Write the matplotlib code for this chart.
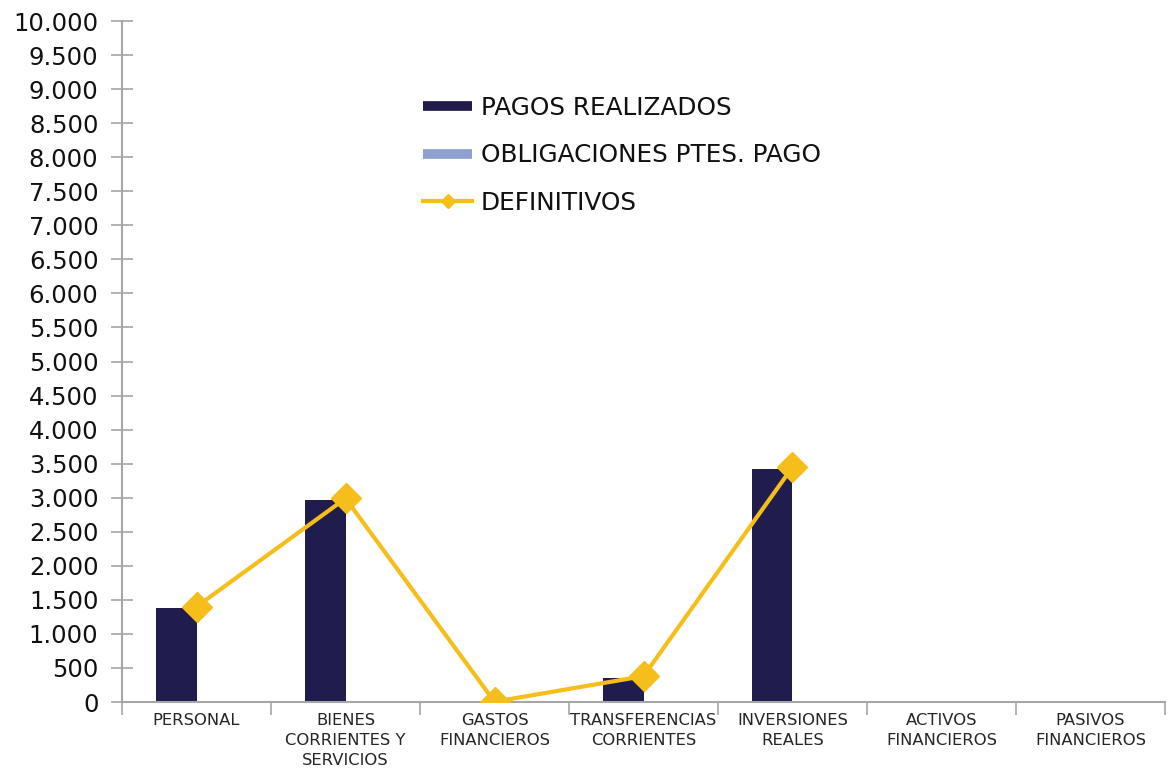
import numpy as np
import matplotlib
matplotlib.use("Agg")
from matplotlib import pyplot as plt
from matplotlib.lines import Line2D
from matplotlib.ticker import FuncFormatter, FixedLocator

plt.rcParams['font.family'] = ['DejaVu Sans']

categorias = ["PERSONAL", "BIENES\nCORRIENTES Y\nSERVICIOS", "GASTOS\nFINANCIEROS",
              "TRANSFERENCIAS\nCORRIENTES", "INVERSIONES\nREALES", "ACTIVOS\nFINANCIEROS",
              "PASIVOS\nFINANCIEROS"]
pagos_realizados = [1380, 2970, 0, 360, 3420, 0, 0]
obligaciones_ptes = [0, 0, 0, 0, 0, 0, 0]
definitivos = [1400, 2990, 5, 380, 3450, np.nan, np.nan]

c_pagos = "#201c4e"
c_oblig = "#8fa1d2"
c_def = "#f5be1b"
c_axis = "#a6a6a6"

fig = plt.figure(figsize=(11.7, 7.73), dpi=100)
ax = fig.add_axes([0.1043, 0.0918, 0.8914, 0.881])

x = np.arange(len(categorias))
w = 0.275
ax.bar(x - w / 2, pagos_realizados, w, color=c_pagos, zorder=2)
ax.bar(x + w / 2, obligaciones_ptes, w, color=c_oblig, zorder=2)
ax.plot(x, definitivos, color=c_def, lw=3, marker='D', ms=15, zorder=3)

ax.set_xlim(-0.5, len(categorias) - 0.5)
ax.set_ylim(0, 10000)
ax.set_yticks(np.arange(0, 10001, 500))
ax.yaxis.set_major_formatter(FuncFormatter(lambda v, p: f"{int(v):,}".replace(",", ".")))

ax.set_xticks(x)
ax.set_xticklabels(categorias, fontsize=11.8, color="#262626", linespacing=1.4)
ax.xaxis.set_minor_locator(FixedLocator(np.arange(-0.5, len(categorias), 1)))
ax.tick_params(axis='x', which='major', length=0, pad=8)
ax.tick_params(axis='x', which='minor', length=9, width=1.2, color=c_axis, direction='out')
ax.tick_params(axis='y', length=16, width=1.2, color=c_axis, direction='inout',
               labelsize=17.5, labelcolor="#111111", pad=9)

for s in ['top', 'right']:
    ax.spines[s].set_visible(False)
for s in ['left', 'bottom']:
    ax.spines[s].set_color(c_axis)
    ax.spines[s].set_linewidth(1.5)

handles = [Line2D([], [], color=c_pagos, lw=7, solid_capstyle='butt'),
           Line2D([], [], color=c_oblig, lw=7, solid_capstyle='butt'),
           Line2D([], [], color=c_def, lw=3, marker='D', ms=7)]
labels = ["PAGOS REALIZADOS", "OBLIGACIONES PTES. PAGO", "DEFINITIVOS"]
fig.legend(handles, labels, loc='upper left', bbox_to_anchor=(0.3615, 0.876),
           frameon=False, fontsize=17.8, handlelength=2.0, handletextpad=0.33,
           labelspacing=0.95, borderpad=0, borderaxespad=0, labelcolor="#111111")

fig.savefig("out.png", dpi=100)
